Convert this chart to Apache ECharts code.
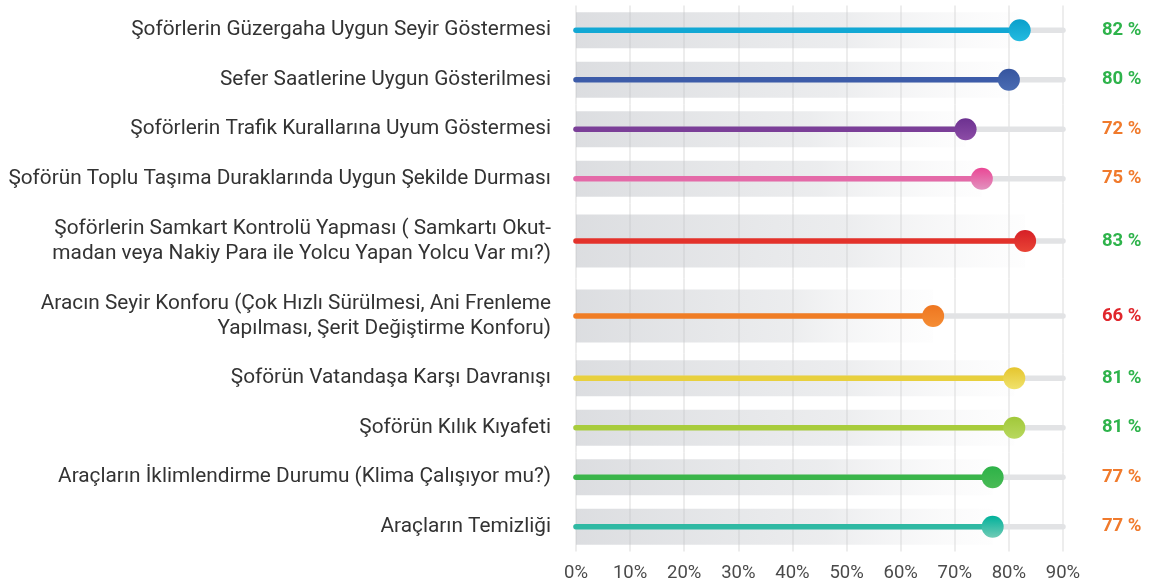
<!DOCTYPE html>
<html>
<head>
<meta charset="utf-8">
<script src="https://cdn.jsdelivr.net/npm/echarts@6/dist/echarts.min.js"></script>
<style>
  html, body { margin: 0; padding: 0; background: #fff; }
  #main { width: 1149px; height: 585px; }
</style>
</head>
<body>
<div id="main"></div>
<script>
// kategoriler (yukaridan asagiya)
var categories = [
    'Şoförlerin Güzergaha Uygun Seyir Göstermesi',
    'Sefer Saatlerine Uygun Gösterilmesi',
    'Şoförlerin Trafik Kurallarına Uyum Göstermesi',
    'Şoförün Toplu Taşıma Duraklarında Uygun Şekilde Durması',
    'Şoförlerin Samkart Kontrolü Yapması ( Samkartı Okut-\nmadan veya Nakiy Para ile Yolcu Yapan Yolcu Var mı?)',
    'Aracın Seyir Konforu (Çok Hızlı Sürülmesi, Ani Frenleme\nYapılması, Şerit Değiştirme Konforu)',
    'Şoförün Vatandaşa Karşı Davranışı',
    'Şoförün Kılık Kıyafeti',
    'Araçların İklimlendirme Durumu (Klima Çalışıyor mu?)',
    'Araçların Temizliği'
];
// yuzde degerleri
var values = [82, 80, 72, 75, 83, 66, 81, 81, 77, 77];
// eksen
var axisMax = 90;
var axisStep = 10;

// renkler: [cizgi, nokta ust, nokta alt]
var rowColors = [
    ['#12a8d4', '#0a9fcb', '#24bbe0'],
    ['#3d5ca9', '#36559f', '#4a6cb3'],
    ['#7b3f98', '#6c3190', '#8c4ca6'],
    ['#e46aa8', '#ea4795', '#e292bf'],
    ['#e3322b', '#d61f26', '#e94436'],
    ['#f07d25', '#ee7620', '#f58d34'],
    ['#e8d03e', '#e5c52e', '#f0e26c'],
    ['#a8cc3c', '#a1c83a', '#b8d85e'],
    ['#3ab54a', '#2db248', '#49bb55'],
    ['#2fb9a3', '#00b19b', '#70cbb5']
];

function valueColor(v) {
    if (v >= 80) return '#2eb34b';
    if (v >= 70) return '#f07a2c';
    return '#e0262c';
}

var grids = [], xAxes = [], yAxes = [], series = [];
var gridTop = 5.5;
for (var i = 0; i < categories.length; i++) {
    var twoLine = categories[i].indexOf('\n') >= 0;
    var h = twoLine ? 75 : 49.5;
    grids.push({ left: 576, right: 86, top: gridTop, height: h });
    gridTop += h;

    xAxes.push({
        gridIndex: i, type: 'value', min: 0, max: axisMax, interval: axisStep,
        axisLine: { show: false }, axisTick: { show: false },
        axisLabel: {
            show: i === categories.length - 1,
            formatter: '{value}%', color: '#4a4a4a', fontSize: 18.5,
            fontFamily: 'Roboto', margin: 12
        },
        splitLine: { show: true, lineStyle: { color: '#e7e7e7', width: 1.5 } }
    });
    yAxes.push({
        gridIndex: i, type: 'category', data: [categories[i]],
        axisLine: { show: false }, axisTick: { show: false },
        axisLabel: {
            color: '#333', fontSize: 20.8, fontFamily: 'Roboto',
            margin: 25, lineHeight: 25, align: 'right'
        }
    });
    yAxes.push({
        gridIndex: i, type: 'category', position: 'right', data: [values[i]],
        axisLine: { show: false }, axisTick: { show: false },
        axisLabel: {
            formatter: '{value} %', fontSize: 18.5, fontWeight: 'bold',
            fontFamily: 'Roboto', margin: 39,
            color: (function (v) { return function () { return valueColor(v); }; })(values[i])
        }
    });

    var c = rowColors[i];
    // gri arka plan bandi
    series.push({
        type: 'bar', xAxisIndex: i, yAxisIndex: 2 * i, silent: true,
        data: [values[i]], barWidth: twoLine ? 53 : 36, z: 1,
        itemStyle: {
            color: {
                type: 'linear', x: 0, y: 0, x2: 1, y2: 0,
                colorStops: [
                    { offset: 0, color: 'rgba(185,188,194,0.5)' },
                    { offset: 0.6, color: 'rgba(195,198,203,0.32)' },
                    { offset: 1, color: 'rgba(225,225,228,0.05)' }
                ]
            }
        }
    });
    // iz cizgisi
    series.push({
        type: 'line', xAxisIndex: i, yAxisIndex: 2 * i, silent: true,
        data: [[0, 0], [axisMax, 0]], symbol: 'none', z: 2,
        lineStyle: { color: '#e2e3e5', width: 5.5, cap: 'round' }
    });
    // renkli cizgi
    series.push({
        type: 'line', xAxisIndex: i, yAxisIndex: 2 * i, silent: true,
        data: [[0, 0], [values[i], 0]], symbol: 'none', z: 3,
        lineStyle: { color: c[0], width: 5.5, cap: 'round' }
    });
    // nokta
    series.push({
        type: 'scatter', xAxisIndex: i, yAxisIndex: 2 * i, silent: true,
        data: [[values[i], 0]], symbolSize: 22, z: 4,
        itemStyle: {
            opacity: 1,
            color: {
                type: 'linear', x: 0, y: 0, x2: 0, y2: 1,
                colorStops: [{ offset: 0, color: c[1] }, { offset: 1, color: c[2] }]
            }
        }
    });
}

var myChart = echarts.init(document.getElementById('main'));
myChart.setOption({
    animation: false,
    backgroundColor: '#fff',
    textStyle: { fontFamily: 'Roboto' },
    grid: grids,
    xAxis: xAxes,
    yAxis: yAxes,
    series: series
});
</script>
</body>
</html>
